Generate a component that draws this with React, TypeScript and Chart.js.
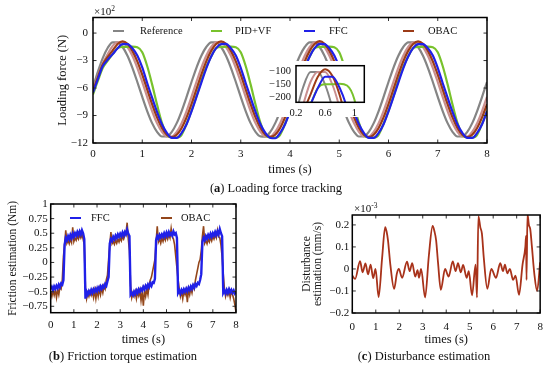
import React, { useEffect, useRef } from 'react';
import { Chart, registerables } from 'chart.js';

Chart.register(...registerables);

const SERIF = "'Liberation Serif', 'Times New Roman', Times, serif";

// ---------- (a) Loading force tracking (N), sampled every 0.1 s ----------
const forceTime: number[] = Array.from({ length: 81 }, (_, i) => i / 10);
const forceReference = [
  -590, -420, -270, -160, -101, -101, -152, -247, -379, -534, -696, -851, -983, -1078, -1129, -1129, -1078, -983, -851, -696,
  -534, -379, -247, -152, -101, -100, -152, -247, -379, -534, -696, -851, -983, -1078, -1128, -1130, -1078, -983, -851, -696,
  -534, -379, -247, -152, -102, -101, -152, -247, -379, -534, -696, -851, -983, -1078, -1129, -1129, -1078, -983, -851, -696,
  -534, -379, -247, -152, -101, -101, -152, -247, -379, -534, -696, -851, -983, -1078, -1129, -1129, -1078, -983, -851, -696,
  -534,
];
const forceReferenceDelayed = [
  -610, -470, -330, -230, -140, -101, -101, -152, -247, -379, -534, -696, -851, -983, -1078, -1129, -1129, -1078, -983, -851,
  -696, -534, -379, -247, -152, -101, -100, -152, -247, -379, -534, -696, -851, -983, -1078, -1129, -1130, -1078, -983, -851,
  -696, -534, -379, -247, -152, -100, -101, -152, -247, -379, -534, -696, -851, -983, -1078, -1129, -1129, -1078, -983, -851,
  -696, -534, -379, -247, -152, -101, -101, -152, -247, -379, -534, -696, -851, -983, -1078, -1129, -1129, -1078, -983, -851,
  -696,
];
const forcePIDVF = [
  -670, -520, -380, -300, -230, -165, -150, -150, -148, -155, -210, -360, -560, -780, -980, -1110, -1140, -1140, -1110, -990,
  -850, -690, -520, -370, -255, -165, -150, -150, -148, -155, -210, -360, -560, -780, -980, -1110, -1140, -1140, -1110, -990,
  -850, -690, -520, -370, -255, -165, -150, -151, -148, -155, -210, -360, -560, -780, -980, -1110, -1140, -1140, -1110, -990,
  -850, -690, -520, -370, -255, -165, -150, -150, -148, -155, -210, -360, -560, -780, -980, -1110, -1140, -1140, -1110, -990,
  -850,
];
const forceFFC = [
  -650, -500, -360, -290, -230, -165, -120, -120, -165, -245, -375, -545, -705, -860, -995, -1090, -1145, -1145, -1090, -995,
  -855, -700, -540, -385, -255, -165, -120, -118, -165, -245, -380, -545, -705, -860, -995, -1090, -1145, -1148, -1090, -995,
  -855, -700, -540, -385, -255, -165, -118, -120, -165, -245, -375, -545, -705, -860, -995, -1090, -1145, -1145, -1090, -995,
  -855, -700, -540, -385, -255, -165, -120, -120, -165, -245, -380, -545, -705, -860, -995, -1090, -1145, -1145, -1090, -995,
  -855,
];
const forceOBAC = [
  -630, -480, -340, -260, -190, -120, -90, -117, -194, -309, -454, -615, -776, -921, -1036, -1110, -1135, -1110, -1036, -921,
  -776, -615, -454, -309, -194, -120, -90, -117, -194, -309, -454, -615, -776, -921, -1036, -1110, -1132, -1110, -1036, -921,
  -776, -615, -454, -309, -194, -120, -88, -117, -194, -309, -454, -615, -776, -921, -1036, -1110, -1135, -1110, -1036, -921,
  -776, -615, -454, -309, -194, -120, -90, -117, -194, -309, -454, -615, -776, -921, -1036, -1110, -1135, -1110, -1036, -921,
  -776,
];
const forceXTicks = [0, 1, 2, 3, 4, 5, 6, 7, 8];
const forceYTicks = [-1200, -900, -600, -300, 0];
const insetXTicks = [0.2, 0.6, 1];
const insetYTicks = [-200, -150, -100];

// ---------- (b) Friction torque estimation (Nm), sampled every 0.05 s ----------
const frictionTime: number[] = Array.from({ length: 161 }, (_, i) => i / 20);
const frictionFFC = [
  -0.46, -0.42, -0.47, -0.41, -0.45, -0.40, -0.44, -0.38, -0.42, -0.36, -0.38, -0.30, 0.30, 0.42, 0.38, 0.45, 0.40, 0.47, 0.42, 0.49,
  0.44, 0.50, 0.46, 0.52, 0.47, 0.53, 0.48, 0.55, 0.50, 0.40, -0.62, -0.50, -0.55, -0.49, -0.53, -0.47, -0.52, -0.46, -0.50, -0.45,
  -0.49, -0.43, -0.47, -0.41, -0.45, -0.40, -0.43, -0.37, -0.40, -0.32, -0.25, 0.32, 0.40, 0.37, 0.44, 0.40, 0.46, 0.42, 0.48, 0.44,
  0.49, 0.45, 0.51, 0.46, 0.52, 0.48, 0.56, 0.49, 0.45, -0.55, -0.52, -0.56, -0.50, -0.54, -0.48, -0.52, -0.46, -0.50, -0.45, -0.48,
  -0.42, -0.46, -0.40, -0.44, -0.38, -0.42, -0.36, -0.40, -0.34, -0.35, -0.28, 0.38, 0.45, 0.41, 0.47, 0.43, 0.48, 0.44, 0.50, 0.45,
  0.51, 0.46, 0.52, 0.47, 0.50, 0.46, 0.53, 0.48, 0.50, 0.42, -0.52, -0.48, -0.53, -0.47, -0.51, -0.46, -0.50, -0.45, -0.49, -0.43,
  -0.47, -0.41, -0.45, -0.39, -0.43, -0.37, -0.40, -0.35, -0.37, -0.30, -0.20, 0.35, 0.42, 0.38, 0.45, 0.41, 0.47, 0.43, 0.49, 0.44,
  0.50, 0.46, 0.52, 0.47, 0.53, 0.48, 0.57, 0.50, 0.45, -0.52, -0.48, -0.53, -0.47, -0.52, -0.46, -0.51, -0.47, -0.52, -0.48, -0.53,
  -0.50,
];
const frictionOBAC = [
  -0.50, -0.58, -0.48, -0.56, -0.47, -0.60, -0.46, -0.55, -0.42, -0.45, -0.30, 0.10, 0.30, 0.55, 0.33, 0.38, 0.32, 0.40, 0.34, 0.60,
  0.36, 0.42, 0.38, 0.45, 0.40, 0.47, 0.42, 0.48, 0.40, 0.30, -0.45, -0.62, -0.52, -0.58, -0.50, -0.56, -0.49, -0.60, -0.48, -0.62,
  -0.47, -0.58, -0.45, -0.55, -0.44, -0.52, -0.40, -0.45, -0.30, -0.22, 0.05, 0.30, 0.52, 0.32, 0.36, 0.31, 0.38, 0.33, 0.40, 0.35,
  0.42, 0.37, 0.44, 0.40, 0.46, 0.50, 0.68, 0.40, 0.20, -0.40, -0.60, -0.52, -0.58, -0.50, -0.62, -0.50, -0.57, -0.48, -0.65, -0.50,
  -0.74, -0.48, -0.58, -0.45, -0.55, -0.38, -0.30, -0.25, -0.15, -0.05, 0.05, 0.35, 0.62, 0.35, 0.40, 0.33, 0.42, 0.36, 0.44, 0.38,
  0.46, 0.40, 0.48, 0.42, 0.58, 0.44, 0.40, 0.30, 0.10, -0.10, -0.30, -0.45, -0.58, -0.50, -0.62, -0.48, -0.55, -0.47, -0.68, -0.46,
  -0.55, -0.44, -0.52, -0.40, -0.45, -0.30, -0.20, -0.10, 0.00, 0.05, 0.20, 0.45, 0.62, 0.33, 0.38, 0.32, 0.40, 0.35, 0.43, 0.37,
  0.45, 0.40, 0.47, 0.42, 0.55, 0.44, 0.42, 0.30, 0.10, -0.20, -0.45, -0.58, -0.50, -0.56, -0.48, -0.60, -0.50, -0.55, -0.62, -0.72,
  -0.85,
];
const frictionXTicks = [0, 1, 2, 3, 4, 5, 6, 7, 8];
const frictionYTicks = [-0.75, -0.5, -0.25, 0, 0.25, 0.5, 0.75, 1];

// ---------- (c) Disturbance estimation (x10^-3 mm/s) ----------
const disturbanceTime = [
  0, 0.12, 0.33, 0.44, 0.56, 0.67, 0.78, 0.89, 0.99, 1.12, 1.27, 1.4, 1.46, 1.52, 1.62, 1.78, 1.9, 1.98,
  2.12, 2.33, 2.44, 2.55, 2.68, 2.78, 2.84, 2.93, 3.1, 3.26, 3.42, 3.5, 3.57, 3.65, 3.77, 3.95,
  4.1, 4.28, 4.4, 4.5, 4.62, 4.72, 4.87, 4.96, 5.1, 5.25, 5.31, 5.37, 5.45, 5.52, 5.6, 5.75, 5.92,
  6.12, 6.3, 6.42, 6.5, 6.6, 6.71, 6.85, 6.95, 7.1, 7.25, 7.37, 7.4, 7.42, 7.46, 7.52, 7.58, 7.65, 7.75, 7.87, 8.0,
];
const disturbanceValue = [
  -0.03, -0.045, 0.035, -0.015, 0.025, -0.025, 0.02, -0.042, 0.0, -0.128, 0.05, 0.19, 0.17, 0.13, 0.02, -0.09, -0.02, 0.0,
  -0.04, 0.033, -0.01, 0.026, -0.035, -0.005, -0.04, 0.0, -0.13, 0.06, 0.195, 0.17, 0.13, 0.03, -0.095, 0.0,
  -0.035, 0.034, -0.01, 0.026, -0.015, 0.018, -0.04, -0.01, -0.12, 0.02, -0.13, 0.24, 0.19, 0.16, 0.05, -0.09, 0.0,
  -0.04, 0.026, -0.01, 0.02, -0.02, 0.0, -0.05, -0.03, -0.118, 0.02, 0.1, 0.15, -0.05, 0.25, 0.2, 0.18, 0.1, -0.02, -0.1, 0.03,
];
const disturbanceXTicks = [0, 1, 2, 3, 4, 5, 6, 7, 8];
const disturbanceYTicks = [-0.2, -0.1, 0, 0.1, 0.2];

// ---------- colours ----------
const C_REF = '#858585';
const C_REF2 = '#c98f8f';
const C_PID = '#78c22c';
const C_FFC = '#2020e8';
const C_OBAC = '#9c3b17';
const C_OBAC_B = '#93461a';
const C_DIST = '#a8321a';

const fmt = (v: number) => String(v).replace('-', '\u2212');

const framePlugin = {
  id: 'frame',
  beforeDraw(chart: any, _a: any, opts: any) {
    if (opts && opts.bg) {
      const { ctx } = chart;
      ctx.save();
      ctx.fillStyle = '#ffffff';
      ctx.fillRect(opts.bg.x, opts.bg.y, opts.bg.w, opts.bg.h);
      ctx.restore();
    }
  },
  afterDatasetsDraw(chart: any, _a: any, opts: any) {
    const { ctx, chartArea: a, scales } = chart;
    ctx.save();
    if (opts && opts.ticks) {
      ctx.strokeStyle = '#333';
      ctx.lineWidth = 1;
      ctx.beginPath();
      const L = 3.5;
      for (const t of scales.x.ticks) {
        const p = scales.x.getPixelForValue(t.value);
        ctx.moveTo(p, a.bottom); ctx.lineTo(p, a.bottom - L);
        ctx.moveTo(p, a.top); ctx.lineTo(p, a.top + L);
      }
      for (const t of scales.y.ticks) {
        const p = scales.y.getPixelForValue(t.value);
        ctx.moveTo(a.left, p); ctx.lineTo(a.left + L, p);
        ctx.moveTo(a.right, p); ctx.lineTo(a.right - L, p);
      }
      ctx.stroke();
    }
    ctx.strokeStyle = '#000';
    ctx.lineWidth = 1.5;
    ctx.strokeRect(a.left, a.top, a.right - a.left, a.bottom - a.top);
    ctx.restore();
  },
};

const lineDs = (label: string, xs: number[], ys: number[], color: string, width: number, smooth: boolean) => ({
  label,
  data: xs.map((x, i) => ({ x, y: ys[i] })),
  borderColor: color,
  backgroundColor: color,
  borderWidth: width,
  pointRadius: 0,
  fill: false,
  tension: 0,
  cubicInterpolationMode: smooth ? 'monotone' : 'default',
});

const axisX = (min: number, max: number, ticks: number[], height: number, pad: number, size: number, title?: string) => ({
  type: 'linear',
  min,
  max,
  afterBuildTicks: (s: any) => { s.ticks = ticks.map((v) => ({ value: v })); },
  afterFit: (s: any) => { s.height = height; },
  grid: { display: false, drawTicks: false },
  border: { display: false },
  ticks: { color: '#111', font: { family: SERIF, size }, padding: pad, autoSkip: false, maxRotation: 0, callback: (v: any) => fmt(Number(v)) },
  title: title
    ? { display: true, text: title, color: '#111', font: { family: SERIF, size: 12.5 }, padding: { top: 0, bottom: 2.5 } }
    : { display: false },
});

const axisY = (min: number, max: number, ticks: number[], width: number, pad: number, size: number, cb: (v: number) => string, title?: any) => ({
  type: 'linear',
  min,
  max,
  afterBuildTicks: (s: any) => { s.ticks = ticks.map((v) => ({ value: v })); },
  afterFit: (s: any) => { s.width = width; },
  grid: { display: false, drawTicks: false },
  border: { display: false },
  ticks: { color: '#111', font: { family: SERIF, size }, padding: pad, autoSkip: false, callback: (v: any) => cb(Number(v)) },
  title: title || { display: false },
});

const baseOptions = (padding: any, frame: any, scales: any) => ({
  responsive: false,
  maintainAspectRatio: false,
  animation: false,
  events: [],
  layout: { padding },
  plugins: { legend: { display: false }, tooltip: { enabled: false }, frame },
  scales,
});

const forceDatasets = (w: number) => [
  lineDs('FFC', forceTime, forceFFC, C_FFC, w, true),
  lineDs('OBAC', forceTime, forceOBAC, C_OBAC, w, true),
  lineDs('PID+VF', forceTime, forcePIDVF, C_PID, w, true),
  lineDs('Reference (delayed)', forceTime, forceReferenceDelayed, C_REF2, w, true),
  lineDs('Reference', forceTime, forceReference, C_REF, w, true),
];

const Txt = ({ x, y, size = 11, center = true, children, style }: any) => (
  <div
    style={{
      position: 'absolute',
      left: x,
      top: y,
      transform: center ? 'translate(-50%, -50%)' : 'translate(0, -50%)',
      fontFamily: SERIF,
      fontSize: size,
      lineHeight: 1,
      whiteSpace: 'nowrap',
      color: '#111',
      ...style,
    }}
  >
    {children}
  </div>
);

const LegendItem = ({ lx, tx, y, color, label }: any) => (
  <>
    <div style={{ position: 'absolute', left: lx, top: y - 0.8, width: 11, height: 1.8, background: color }} />
    <Txt x={tx} y={y} size={10.5} center={false}>{label}</Txt>
  </>
);

export default function App() {
  const aRef = useRef<HTMLCanvasElement>(null);
  const insetRef = useRef<HTMLCanvasElement>(null);
  const bRef = useRef<HTMLCanvasElement>(null);
  const cRef = useRef<HTMLCanvasElement>(null);

  useEffect(() => {
    const charts: Chart[] = [];

    charts.push(
      new Chart(aRef.current as HTMLCanvasElement, {
        type: 'line',
        data: { datasets: forceDatasets(2.2) as any },
        plugins: [framePlugin as any],
        options: baseOptions(
          { left: 0, right: 63, top: 17.5, bottom: 0 },
          { ticks: true },
          {
            x: axisX(0, 8, forceXTicks, 37, 5, 11, 'times (s)'),
            y: axisY(-1200, 170, forceYTicks, 93, 5, 11, (v) => fmt(v / 100), {
              display: true,
              text: 'Loading force (N)',
              color: '#111',
              font: { family: SERIF, size: 12.5 },
              padding: { top: 55.5, bottom: 0 },
            }),
          },
        ) as any,
      }),
    );

    charts.push(
      new Chart(insetRef.current as HTMLCanvasElement, {
        type: 'line',
        data: { datasets: forceDatasets(2) as any },
        plugins: [framePlugin as any],
        options: baseOptions(
          { left: 0, right: 3.7, top: 13.7, bottom: 0 },
          { ticks: false, bg: { x: 0, y: 9, w: 106, h: 56 } },
          {
            x: axisX(0.2, 1.137, insetXTicks, 14.7, 4.4, 10.5),
            y: axisY(-222, -76, insetYTicks, 34, 5, 10.5, (v) => fmt(v)),
          },
        ) as any,
      }),
    );

    charts.push(
      new Chart(bRef.current as HTMLCanvasElement, {
        type: 'line',
        data: {
          datasets: [
            lineDs('FFC', frictionTime, frictionFFC, C_FFC, 2.4, false),
            lineDs('OBAC', frictionTime, frictionOBAC, C_OBAC_B, 1.6, false),
          ] as any,
        },
        plugins: [framePlugin as any],
        options: baseOptions(
          { left: 0, right: 14, top: 14, bottom: 0 },
          { ticks: true },
          {
            x: axisX(0, 8, frictionXTicks, 37.3, 6.2, 11, 'times (s)'),
            y: axisY(-0.86, 1, frictionYTicks, 50.7, 3, 11, (v) => fmt(v), {
              display: true,
              text: 'Friction estimation (Nm)',
              color: '#111',
              font: { family: SERIF, size: 11.5 },
              padding: { top: 5.8, bottom: 0 },
            }),
          },
        ) as any,
      }),
    );

    charts.push(
      new Chart(cRef.current as HTMLCanvasElement, {
        type: 'line',
        data: {
          datasets: [lineDs('Disturbance', disturbanceTime, disturbanceValue, C_DIST, 1.8, true)] as any,
        },
        plugins: [framePlugin as any],
        options: baseOptions(
          { left: 0, right: 7, top: 20, bottom: 0 },
          { ticks: true },
          {
            x: axisX(0, 8, disturbanceXTicks, 37, 7.1, 11, 'times (s)'),
            y: axisY(-0.2, 0.245, disturbanceYTicks, 62.3, 3, 11, (v) => fmt(v), {
              display: true,
              text: ['Disturbance', 'estimation (mm/s)'],
              color: '#111',
              font: { family: SERIF, size: 11.5, lineHeight: 1 },
              padding: { top: 10.95, bottom: 0 },
            }),
          },
        ) as any,
      }),
    );

    return () => charts.forEach((c) => c.destroy());
  }, []);

  return (
    <div style={{ position: 'absolute', left: 0, top: 0, width: 550, height: 367, background: '#fff', overflow: 'hidden' }}>
      <canvas ref={aRef} width={550} height={180} style={{ position: 'absolute', left: 0, top: 0 }} />
      <canvas ref={insetRef} width={106} height={65} style={{ position: 'absolute', left: 262, top: 52 }} />
      <canvas ref={bRef} width={250} height={160} style={{ position: 'absolute', left: 0, top: 190 }} />
      <canvas ref={cRef} width={260} height={155} style={{ position: 'absolute', left: 290, top: 195 }} />

      <Txt x={94} y={11} size={11} center={false}>
        ×10<span style={{ fontSize: 7.5, position: 'relative', top: -4 }}>2</span>
      </Txt>
      <LegendItem lx={113} tx={140} y={31} color={C_REF} label="Reference" />
      <LegendItem lx={211} tx={235} y={31} color={C_PID} label="PID+VF" />
      <LegendItem lx={304} tx={329} y={31} color={C_FFC} label="FFC" />
      <LegendItem lx={403} tx={428} y={31} color={C_OBAC} label="OBAC" />

      <Txt x={276} y={188} size={12.5}>
        (<b>a</b>) Loading force tracking
      </Txt>

      <LegendItem lx={70} tx={91} y={218} color={C_FFC} label="FFC" />
      <LegendItem lx={161} tx={181} y={218} color={C_OBAC_B} label="OBAC" />

      <Txt x={354} y={208} size={11} center={false}>
        ×10<span style={{ fontSize: 7.5, position: 'relative', top: -4 }}>-3</span>
      </Txt>

      <Txt x={123} y={356} size={12.5}>
        (<b>b</b>) Friction torque estimation
      </Txt>
      <Txt x={424} y={356} size={12.5}>
        (<b>c</b>) Disturbance estimation
      </Txt>
    </div>
  );
}
